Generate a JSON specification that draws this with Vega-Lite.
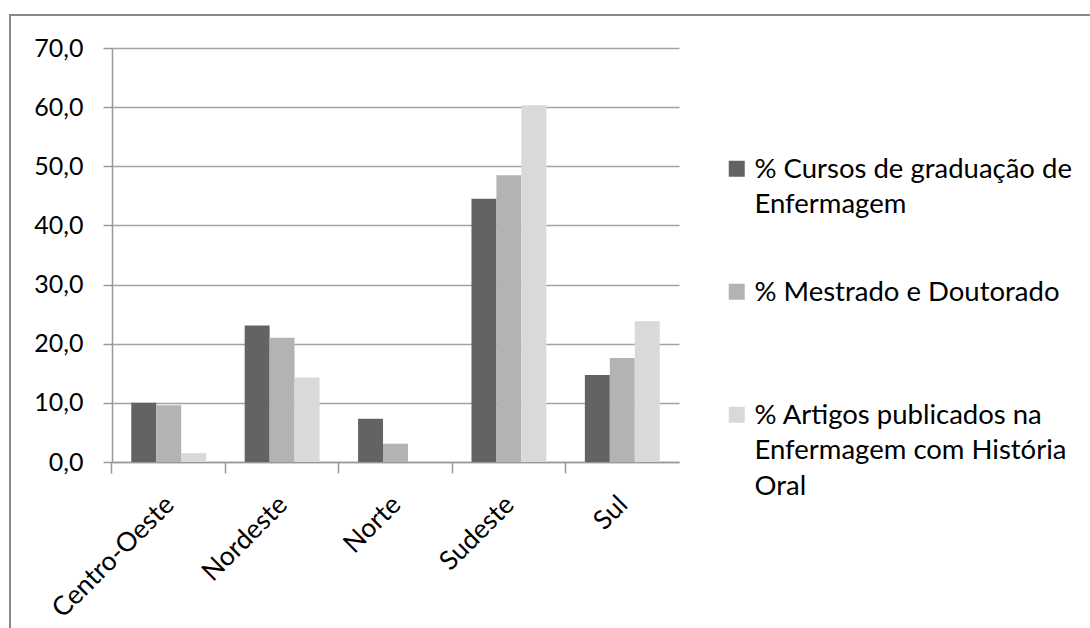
{
  "$schema": "https://vega.github.io/schema/vega-lite/v6.json",
  "width": 1082,
  "height": 615,
  "autosize": {"type": "none"},
  "padding": {"left": 10, "top": 15, "right": -2, "bottom": -2},
  "background": "white",
  "config": {
    "view": {"stroke": "#898989", "strokeWidth": 2},
    "font": "Lato",
    "style": {"guide-label": {"lineHeight": 35.5}}
  },
  "data": {
    "values": [
      {"regiao": "Centro-Oeste", "serie": "% Cursos de graduação de Enfermagem", "valor": 10.0},
      {"regiao": "Centro-Oeste", "serie": "% Mestrado e Doutorado", "valor": 9.6},
      {"regiao": "Centro-Oeste", "serie": "% Artigos publicados na Enfermagem com História Oral", "valor": 1.5},
      {"regiao": "Nordeste", "serie": "% Cursos de graduação de Enfermagem", "valor": 23.1},
      {"regiao": "Nordeste", "serie": "% Mestrado e Doutorado", "valor": 21.0},
      {"regiao": "Nordeste", "serie": "% Artigos publicados na Enfermagem com História Oral", "valor": 14.3},
      {"regiao": "Norte", "serie": "% Cursos de graduação de Enfermagem", "valor": 7.3},
      {"regiao": "Norte", "serie": "% Mestrado e Doutorado", "valor": 3.1},
      {"regiao": "Norte", "serie": "% Artigos publicados na Enfermagem com História Oral", "valor": 0},
      {"regiao": "Sudeste", "serie": "% Cursos de graduação de Enfermagem", "valor": 44.5},
      {"regiao": "Sudeste", "serie": "% Mestrado e Doutorado", "valor": 48.5},
      {"regiao": "Sudeste", "serie": "% Artigos publicados na Enfermagem com História Oral", "valor": 60.3},
      {"regiao": "Sul", "serie": "% Cursos de graduação de Enfermagem", "valor": 14.7},
      {"regiao": "Sul", "serie": "% Mestrado e Doutorado", "valor": 17.6},
      {"regiao": "Sul", "serie": "% Artigos publicados na Enfermagem com História Oral", "valor": 23.8}
    ]
  },
  "mark": {"type": "bar"},
  "encoding": {
    "x": {
      "field": "regiao",
      "type": "nominal",
      "sort": ["Centro-Oeste", "Nordeste", "Norte", "Sudeste", "Sul"],
      "scale": {"range": [102, 669], "paddingInner": 0.34, "paddingOuter": 0.17},
      "axis": {
        "title": null,
        "orient": "bottom",
        "offset": -168,
        "grid": false,
        "labelAngle": -45,
        "labelAlign": "right",
        "labelBaseline": "top",
        "labelFontSize": 26.5,
        "labelColor": "black",
        "labelPadding": 18,
        "labelOffset": -8,
        "tickSize": 11,
        "tickColor": "#999999",
        "tickWidth": 1.5,
        "domainColor": "#999999",
        "domainWidth": 1.5,
        "bandPosition": -0.2576
      }
    },
    "xOffset": {
      "field": "serie",
      "type": "nominal",
      "sort": ["% Cursos de graduação de Enfermagem", "% Mestrado e Doutorado", "% Artigos publicados na Enfermagem com História Oral"],
      "scale": {"paddingInner": 0, "paddingOuter": 0}
    },
    "y": {
      "field": "valor",
      "type": "quantitative",
      "scale": {"domain": [0, 70], "range": [447, 33], "nice": false},
      "axis": {
        "title": null,
        "offset": -102,
        "values": [0, 10, 20, 30, 40, 50, 60, 70],
        "labelExpr": "replace(format(datum.value, '.1f'), '.', ',')",
        "labelFontSize": 25,
        "labelColor": "black",
        "labelPadding": 20,
        "tickSize": 9,
        "tickColor": "#999999",
        "tickWidth": 1.5,
        "domainColor": "#999999",
        "domainWidth": 1.5,
        "grid": true,
        "gridColor": "#a3a3a3",
        "gridWidth": 1.5
      }
    },
    "color": {
      "field": "serie",
      "type": "nominal",
      "sort": ["% Cursos de graduação de Enfermagem", "% Mestrado e Doutorado", "% Artigos publicados na Enfermagem com História Oral"],
      "scale": {"range": ["#636363", "#b3b3b3", "#d9d9d9"]},
      "legend": {
        "title": null,
        "orient": "none",
        "legendX": 713,
        "legendY": 149,
        "padding": 0,
        "symbolType": "M-1,-2.125H1V-0.125H-1Z",
        "symbolSize": 256,
        "symbolStrokeWidth": 0,
        "symbolOpacity": 1,
        "labelFontSize": 27.5,
        "labelColor": "black",
        "labelOffset": 4,
        "labelBaseline": "alphabetic",
        "labelLimit": 500,
        "gridAlign": "all",
        "rowPadding": 23,
        "labelExpr": "datum.label == '% Cursos de graduação de Enfermagem' ? ['% Cursos de graduação de', 'Enfermagem'] : datum.label == '% Artigos publicados na Enfermagem com História Oral' ? ['% Artigos publicados na', 'Enfermagem com História', 'Oral'] : datum.label"
      }
    }
  }
}
